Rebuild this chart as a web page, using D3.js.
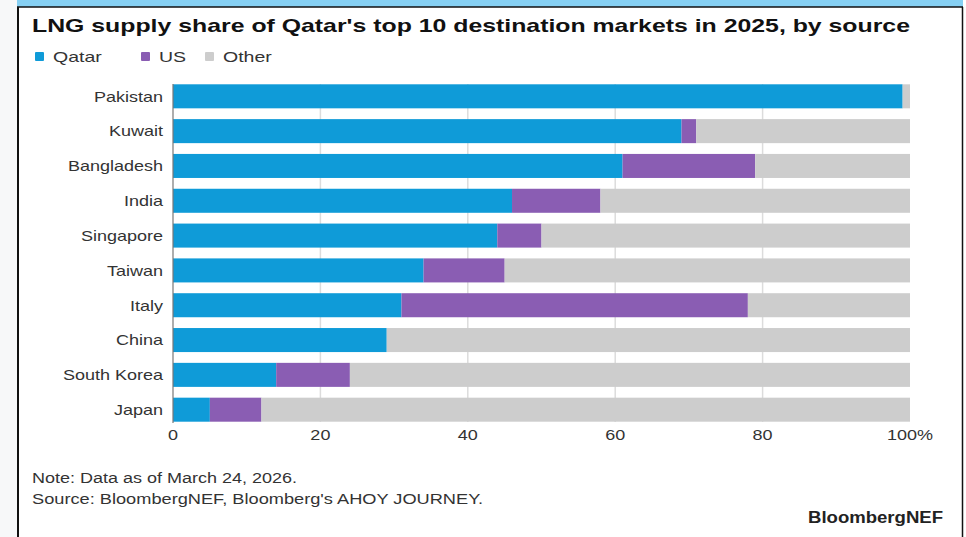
<!DOCTYPE html>
<html><head><meta charset="utf-8">
<script src="https://cdn.jsdelivr.net/npm/d3@7"></script>
<style>
html,body{margin:0;padding:0;background:#fff;}
svg{display:block;font-family:"Liberation Sans",Arial,sans-serif;}
</style></head>
<body>
<svg id="c" width="966" height="537"></svg>
<script>
const categories = ["Pakistan","Kuwait","Bangladesh","India","Singapore","Taiwan","Italy","China","South Korea","Japan"];
const qatar = [99,69,61,46,44,34,31,29,14,5];
const us    = [0,2,18,12,6,11,47,0,10,7];
const other = [1,29,21,42,50,55,22,71,76,88];
const seriesNames = ["Qatar","US","Other"];
const ticks = [0,20,40,60,80,100];
const colors = ["#0f9bd8","#8a5db3","#cdcdcd"];

const svg = d3.select("#c");
// frame
svg.append("rect").attr("x",0).attr("y",0).attr("width",18).attr("height",537).attr("fill","#f7f8f9");
svg.append("rect").attr("x",17).attr("y",0).attr("width",946).attr("height",7).attr("fill","#86d0f3");
svg.append("line").attr("x1",17).attr("x2",963).attr("y1",7).attr("y2",7).attr("stroke","#111").attr("stroke-width",1.5);
svg.append("line").attr("x1",18).attr("x2",18).attr("y1",7).attr("y2",537).attr("stroke","#111").attr("stroke-width",2);
svg.append("line").attr("x1",962.5).attr("x2",962.5).attr("y1",7).attr("y2",537).attr("stroke","#111").attr("stroke-width",1.5);

function stretch(sel,k){
  sel.each(function(){
    const w=this.getComputedTextLength();
    d3.select(this).attr("textLength",w*k).attr("lengthAdjust","spacingAndGlyphs");
  });
}
function fit(sel,w){ sel.attr("textLength",w).attr("lengthAdjust","spacingAndGlyphs"); }

// title
fit(svg.append("text").attr("x",32).attr("y",32).attr("font-size",18.5).attr("font-weight","bold").attr("fill","#111")
  .text("LNG supply share of Qatar's top 10 destination markets in 2025, by source"),878);

// legend
const legX=[35,141,205];
const lg=svg.selectAll("g.leg").data(seriesNames).join("g").attr("class","leg")
  .attr("transform",(d,i)=>`translate(${legX[i]},0)`);
lg.append("rect").attr("x",0).attr("y",52).attr("width",9).attr("height",9).attr("rx",1).attr("fill",(d,i)=>colors[i]);
const lt=lg.append("text").attr("x",18).attr("y",62).attr("font-size",15).attr("fill","#333").text(d=>d);
stretch(lt,1.3);

const x=d3.scaleLinear().domain([0,100]).range([173,910]);
const y=d3.scaleBand().domain(categories).range([84.3,421.7]).paddingInner(0.31).paddingOuter(0);

// grid
svg.append("g").selectAll("line").data(ticks.filter(t=>t>0&&t<100)).join("line")
  .attr("x1",d=>x(d)).attr("x2",d=>x(d)).attr("y1",84).attr("y2",422)
  .attr("stroke","#dcdcdc").attr("stroke-width",1.5);

const rows=categories.map((c,i)=>({c,vals:[qatar[i],us[i],other[i]]}));
const stackData=rows.map(r=>{let s=0;return r.vals.map((v,j)=>{const o={c:r.c,j,x0:s,x1:s+v};s+=v;return o;});}).flat();
svg.append("g").selectAll("rect").data(stackData.filter(d=>d.x1>d.x0)).join("rect")
  .attr("x",d=>x(d.x0)).attr("width",d=>x(d.x1)-x(d.x0))
  .attr("y",d=>y(d.c)).attr("height",y.bandwidth()).attr("fill",d=>colors[d.j]);

// zero axis line
svg.append("line").attr("x1",x(0)).attr("x2",x(0)).attr("y1",84).attr("y2",423).attr("stroke","#777").attr("stroke-width",1.2);

// y labels
const yl=svg.append("g").selectAll("text").data(categories).join("text")
  .attr("x",163).attr("y",d=>y(d)+y.bandwidth()/2+5.3).attr("text-anchor","end")
  .attr("font-size",15).attr("fill","#333").text(d=>d);
stretch(yl,1.2);

// x tick labels
const xt=svg.append("g").selectAll("text").data(ticks).join("text")
  .attr("x",d=>x(d)).attr("y",440).attr("text-anchor","middle")
  .attr("font-size",15).attr("fill","#333").text(d=>d===100?"100%":d);
stretch(xt,1.2);

// notes
fit(svg.append("text").attr("x",32).attr("y",483).attr("font-size",14).attr("fill","#333").text("Note: Data as of March 24, 2026."),265);
fit(svg.append("text").attr("x",32).attr("y",503.5).attr("font-size",14).attr("fill","#333").text("Source: BloombergNEF, Bloomberg's AHOY JOURNEY."),451);
fit(svg.append("text").attr("x",808).attr("y",522.5).attr("font-size",16).attr("font-weight","bold").attr("fill","#222").text("BloombergNEF"),135);
</script>
</body></html>
